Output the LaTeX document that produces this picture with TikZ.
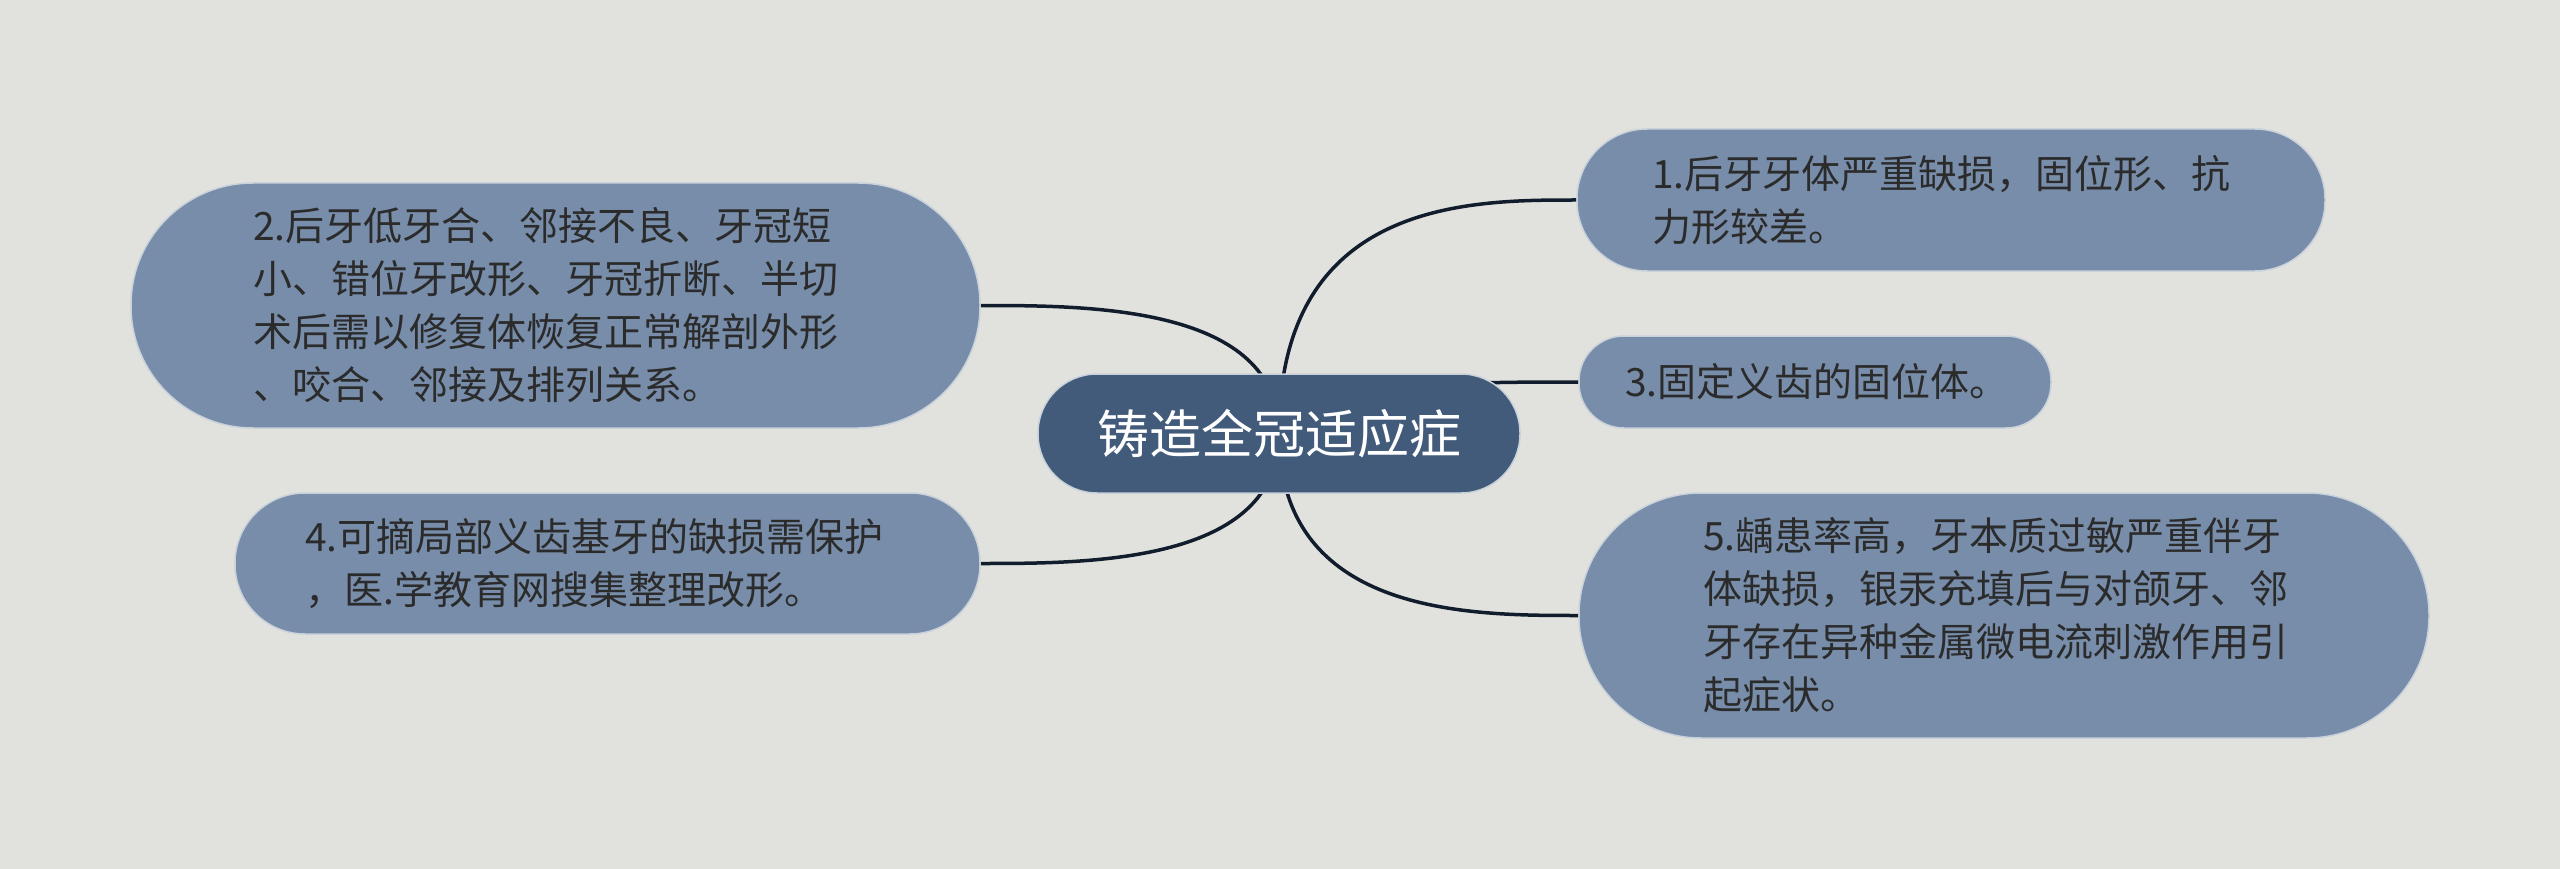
\documentclass[tikz,border=0pt]{standalone}
\usepackage{fontspec}
\setmainfont{Noto Sans CJK SC}
\usetikzlibrary{calc}
\pgfdeclarelayer{bg}
\pgfsetlayers{bg,main}
\definecolor{bgc}{HTML}{E1E2DD}
\definecolor{subfill}{HTML}{778DAA}
\definecolor{subedge}{HTML}{C9D1DB}
\definecolor{mainfill}{HTML}{425B7A}
\definecolor{linkc}{HTML}{111C2C}
\definecolor{txtc}{HTML}{2B2B2B}
\tikzset{
  subbox/.style={fill=subfill, draw=subedge, line width=1.5pt, inner sep=0pt},
  mainbox/.style={fill=mainfill, draw=subedge, line width=1.5pt, inner sep=0pt},
  subtext/.style={anchor=west, align=left, inner sep=0pt, text=txtc, font=\fontsize{39}{53}\selectfont},
  maintext/.style={inner sep=0pt, text=white, font=\fontsize{52}{60}\selectfont},
  link/.style={draw=linkc, line width=3.5pt}
}
\begin{document}
\begin{tikzpicture}[x=1pt,y=-1pt]
\useasboundingbox (0,0) rectangle (2560,869);
\begin{pgfonlayer}{bg}
\fill[bgc] (0,0) rectangle (2560,869);
\end{pgfonlayer}

% central
\node[mainbox, minimum width=482pt, minimum height=119pt, rounded corners=59pt] (c) at (1279,433.5) {};
\node[maintext] (ct) at (1279,434) {铸造全冠适应症};

% node 1
\node[subbox, minimum width=748pt, minimum height=142pt, rounded corners=70pt] (n1) at (1951,200) {};
\node[subtext] (t1) at (1652,200) {1.后牙牙体严重缺损，固位形、抗\\力形较差。};

% node 2
\node[subbox, minimum width=849pt, minimum height=245pt, rounded corners=122pt] (n2) at (555.5,305.5) {};
\node[subtext] (t2) at (253,305.5) {2.后牙低牙合、邻接不良、牙冠短\\小、错位牙改形、牙冠折断、半切\\术后需以修复体恢复正常解剖外形\\、咬合、邻接及排列关系。};

% node 3
\node[subbox, minimum width=472pt, minimum height=92pt, rounded corners=45pt] (n3) at (1815,382) {};
\node[subtext] (t3) at (1625,382) {3.固定义齿的固位体。};

% node 4
\node[subbox, minimum width=745pt, minimum height=141pt, rounded corners=70pt] (n4) at (607.5,563.5) {};
\node[subtext] (t4) at (305,563.5) {4.可摘局部义齿基牙的缺损需保护\\，医.学教育网搜集整理改形。};

% node 5
\node[subbox, minimum width=850pt, minimum height=245pt, rounded corners=122pt] (n5) at (2004,615.5) {};
\node[subtext] (t5) at (1703,615.5) {5.龋患率高，牙本质过敏严重伴牙\\体缺损，银汞充填后与对颌牙、邻\\牙存在异种金属微电流刺激作用引\\起症状。};

% connectors
\begin{pgfonlayer}{bg}
\draw[link] (c.center) .. controls (c.center |- n1.west) and ($(c.center |- n1.west)+(190,0)$) .. (n1.west);
\draw[link] (c.center) .. controls (c.center |- n3.west) and ($(c.center |- n3.west)+(190,0)$) .. (n3.west);
\draw[link] (c.center) .. controls (c.center |- n5.west) and ($(c.center |- n5.west)+(190,0)$) .. (n5.west);
\draw[link] (c.center) .. controls (c.center |- n2.east) and ($(c.center |- n2.east)+(-190,0)$) .. (n2.east);
\draw[link] (c.center) .. controls (c.center |- n4.east) and ($(c.center |- n4.east)+(-190,0)$) .. (n4.east);
\end{pgfonlayer}
\end{tikzpicture}
\end{document}
